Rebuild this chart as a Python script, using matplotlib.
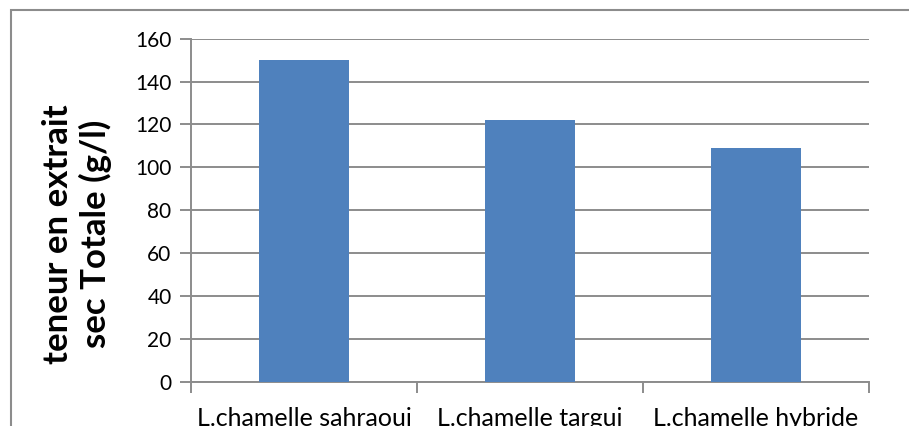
import numpy as np
import matplotlib.pyplot as plt
from matplotlib.patches import Rectangle

categories = ['L.chamelle sahraoui', 'L.chamelle targui', 'L.chamelle hybride']
values = [150, 122, 109]
yticks = [0, 20, 40, 60, 80, 100, 120, 140, 160]

plt.rcParams['font.family'] = ['Lato', 'DejaVu Sans']

W, H = 909, 426
fig = plt.figure(figsize=(W / 100, H / 100), dpi=100)
# plot area in pixels: x 191..869, y 38.7..381.7
ax = fig.add_axes([191 / W, 1 - 381.7 / H, (869 - 191) / W, (381.7 - 38.7) / H])

# outer chart border (cut off at right and bottom)
fig.patches.append(Rectangle((11 / W, -0.1), 1.2, 1 - 10 / H + 0.1, transform=fig.transFigure,
                             fill=False, edgecolor='#8c8c8c', linewidth=1.5))

x = np.arange(len(categories))
ax.bar(x, values, width=0.4, color='#4f81bd', zorder=3)

ax.set_xlim(-0.5, len(categories) - 0.5)
ax.set_ylim(0, 160)
ax.set_yticks(yticks)
ax.yaxis.grid(True, color='#8c8c8c', linewidth=1.4, zorder=0)
ax.set_xticks(x)
ax.set_xticklabels(categories, fontsize=18)
ax.set_xticks(np.arange(-0.5, len(categories)), minor=True)
ax.tick_params(axis='x', which='major', length=0, pad=18)
ax.tick_params(axis='x', which='minor', length=8, width=1.4, color='#8c8c8c', direction='out')
ax.tick_params(axis='y', length=8, width=1.4, color='#8c8c8c', labelsize=15, pad=6)

for s in ['top', 'right']:
    ax.spines[s].set_visible(False)
for s in ['left', 'bottom']:
    ax.spines[s].set_color('#8c8c8c')
    ax.spines[s].set_linewidth(1.4)

ax.set_ylabel('teneur en extrait\nsec Totale (g/l)', fontsize=25, fontweight='bold',
              linespacing=1.15)
ax.yaxis.set_label_coords(-0.117, 0.43)

fig.savefig('out.png', dpi=100)
